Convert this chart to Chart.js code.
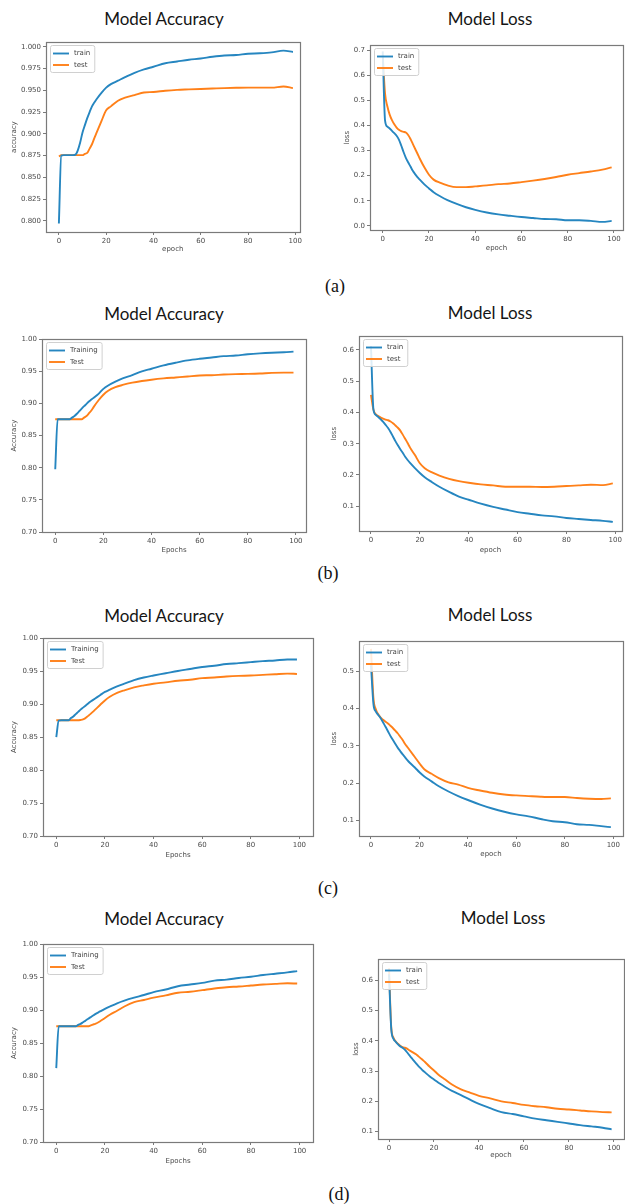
<!DOCTYPE html>
<html>
<head>
<meta charset="utf-8">
<script src="https://cdn.jsdelivr.net/npm/chart.js@4.4.1/dist/chart.umd.min.js"></script>
<style>
  html, body { margin: 0; padding: 0; background: #fff; overflow: hidden; }
  #page { position: relative; width: 625px; height: 1204px; overflow: hidden; background: #fff; }
  #page canvas { position: absolute; }
  .ttl { position: absolute; transform: translate(-50%, -50%); font-family: Lato, "Open Sans", sans-serif; font-size: 17px; line-height: 1; color: #151515; white-space: nowrap; }
  .sub { position: absolute; transform: translate(-50%, -50%); font-family: "Liberation Serif", "DejaVu Serif", serif; font-size: 18px; line-height: 1; color: #111; }
</style>
</head>
<body>
<div id="page"></div>
<script>
const epochs = [0,1,2,3,4,5,6,7,8,9,10,11,12,13,14,15,16,18,20,22,25,28,32,36,40,45,50,55,60,65,70,75,80,85,90,95,99];

// (a)
const accTrainA = [0.797,0.875,0.8755,0.8755,0.8755,0.8755,0.8755,0.876,0.881,0.890,0.9015,0.910,0.918,0.925,0.9315,0.936,0.940,
  0.947,0.953,0.957,0.961,0.965, 0.970,0.974,0.977,0.981,0.983, 0.985,0.9865,0.9885,0.990,0.9905, 0.992,0.9925,0.9935,0.9955,0.994];
const accTestA = [0.874,0.8755,0.8755,0.8755,0.8755,0.8755,0.8755,0.8755,0.8755,0.8755,0.8755,0.877,0.878,0.883,0.888,0.895,0.9015,
  0.9145,0.927,0.9315,0.938,0.9415, 0.9445,0.9475,0.948,0.9495,0.9505, 0.951,0.9515,0.952,0.9525,0.9528, 0.953,0.953,0.953,0.9543,0.9525];
const lossTrainA = [0.695,0.42,0.395,0.3875,0.3785,0.369,0.359,0.3435,0.320,0.294,0.271,0.253,0.236,0.219,0.206,0.194,0.184,
  0.165,0.149,0.1335,0.1167,0.1024, 0.087,0.074,0.0635,0.053,0.0454, 0.040,0.035,0.031,0.027,0.026, 0.022,0.022,0.0195,0.0155,0.0195];
const lossTestA = [0.68,0.5275,0.476,0.443,0.421,0.4045,0.3915,0.3825,0.377,0.3745,0.372,0.3617,0.346,0.3267,0.307,0.288,0.268,
  0.233,0.2035,0.184,0.171,0.161, 0.154,0.154,0.157,0.161,0.166, 0.1685,0.174,0.180,0.1867,0.1945, 0.2035,0.21,0.2165,0.224,0.233];

// (b)
const accTrainB = [0.7976,0.8754,0.8755,0.8755,0.8755,0.8755,0.8755,0.878,0.8805,0.884,0.888,0.892,0.8958,0.8993,0.903,0.906,0.909,
  0.915,0.9227,0.928,0.934,0.939, 0.944,0.950,0.954,0.9593,0.9634, 0.967,0.9695,0.9715,0.9736,0.9746, 0.9766,0.978,0.979,0.9797,0.9807];
const accTestB = [0.8755,0.8755,0.8755,0.8755,0.8755,0.8755,0.8755,0.8755,0.8755,0.8755,0.8755,0.8755,0.878,0.8805,0.8846,0.889,0.8947,
  0.905,0.9136,0.9197,0.9253,0.9288, 0.9324,0.935,0.937,0.939,0.9405, 0.942,0.9436,0.944,0.945,0.9456, 0.946,0.9466,0.9476,0.948,0.948];
const lossTrainB = [0.6125,0.41,0.392,0.3855,0.378,0.370,0.3604,0.35,0.3375,0.323,0.3083,0.2948,0.2823,0.271,0.2583,0.2479,0.2385,
  0.2219,0.2063,0.1927,0.177,0.1625, 0.1458,0.131,0.1208,0.1083,0.098, 0.0896,0.0813,0.076,0.0708,0.0677, 0.0625,0.0594,0.0562,0.0531,0.05];
const lossTestB = [0.4563,0.409,0.3937,0.3885,0.3833,0.380,0.377,0.375,0.371,0.3656,0.3583,0.351,0.3417,0.329,0.3156,0.302,0.2875,
  0.2635,0.2375,0.2219,0.2083,0.198, 0.1875,0.1802,0.175,0.1698,0.1667, 0.1625,0.1625,0.1625,0.1615,0.1625, 0.1646,0.1667,0.169,0.1677,0.173];

// (c)
const accTrainC = [0.85,0.875,0.8755,0.8755,0.8755,0.8755,0.8788,0.8813,0.8848,0.8882,0.8917,0.8947,0.8977,0.9007,0.9036,0.9061,0.9086,
  0.9136,0.9185,0.922,0.927,0.931, 0.9364,0.9404,0.9434,0.9468,0.9503, 0.9533,0.9563,0.9583,0.9608,0.9622, 0.9637,0.9652,0.9662,0.9677,0.9677];
const accTestC = [0.8755,0.8755,0.8755,0.8755,0.8755,0.8755,0.8755,0.8755,0.8755,0.8755,0.876,0.8768,0.8788,0.8818,0.8848,0.8882,0.8917,
  0.8987,0.9056,0.9111,0.917,0.921, 0.9255,0.9285,0.931,0.933,0.9354, 0.9369,0.9394,0.9404,0.9419,0.9429, 0.9434,0.9444,0.9454,0.9463,0.9458];
const lossTrainC = [0.5158,0.4125,0.3915,0.3827,0.374,0.3626,0.3512,0.339,0.3267,0.3162,0.3057,0.2952,0.2864,0.2777,0.2698,0.2619,0.2549,
  0.2427,0.2295,0.2182,0.205,0.1919, 0.1779,0.1657,0.1551,0.1429,0.1324, 0.1236,0.1166,0.1114,0.1044,0.0982, 0.0956,0.0904,0.0886,0.0851,0.0825];
const lossTestC = [0.5595,0.4282,0.3976,0.3845,0.3757,0.3696,0.3643,0.36,0.3538,0.3477,0.3407,0.3337,0.325,0.3162,0.3057,0.297,0.2882,
  0.2707,0.2532,0.2374,0.2252,0.2138, 0.2024,0.1963,0.1875,0.1805,0.1744, 0.17,0.1674,0.1656,0.1639,0.163, 0.163,0.1604,0.1586,0.1578,0.1595];

// (d)
const accTrainD = [0.812,0.8756,0.8755,0.8755,0.8755,0.8755,0.8755,0.8755,0.8755,0.8776,0.8791,0.8816,0.884,0.8866,0.889,0.8915,0.894,
  0.898,0.902,0.9055,0.9104,0.9144, 0.9189,0.9229,0.9274,0.9313,0.9363, 0.9388,0.9413,0.9448,0.9463,0.9488, 0.9507,0.9532,0.9552,0.9572,0.9592];
const accTestD = [0.8755,0.8755,0.8755,0.8755,0.8755,0.8755,0.8755,0.8755,0.8755,0.8755,0.8755,0.8755,0.8755,0.8755,0.8766,0.8781,0.8791,
  0.8831,0.888,0.893,0.899,0.9055, 0.912,0.9154,0.9189,0.9224,0.9264, 0.9279,0.9303,0.9328,0.9348,0.9358, 0.9373,0.9388,0.9398,0.9408,0.9403];
const lossTrainD = [0.62,0.4387,0.4065,0.3968,0.3882,0.3817,0.3774,0.371,0.3624,0.3527,0.344,0.3344,0.3258,0.3172,0.3097,0.3022,0.2957,
  0.2828,0.272,0.2613,0.2473,0.2344, 0.2204,0.2054,0.1914,0.1774,0.1645, 0.1581,0.1505,0.143,0.1376,0.1323, 0.1269,0.1215,0.1172,0.1129,0.1075];
const lossTestD = [0.64,0.444,0.4097,0.3978,0.3903,0.3839,0.3796,0.3774,0.3742,0.3688,0.3645,0.3602,0.3559,0.3495,0.343,0.3366,0.3301,
  0.3151,0.3022,0.2882,0.272,0.2559, 0.2398,0.229,0.2183,0.2097,0.2, 0.1946,0.1882,0.1839,0.1806,0.1753, 0.1731,0.1699,0.1667,0.1645,0.1634];

const accLegend = ["Training", "Test"];
const lossLegend = ["train", "test"];

const BLUE = "#2686c0";
const ORANGE = "#ff8019";
const TICK_FONT = { family: "DejaVu Sans", size: 7 };
const TICK_COLOR = "#4a4a4a";
const YW = 40, XH = 26, PT = 2, PR = 2;

// plot box on the page: [left, top, right, bottom]
const panels = [
  { box: [46, 38, 302, 232], x: [-5.45, 101.8], y: [0.7872, 1.0052], step: 0.025, dec: 3, yTitle: "accuracy", xTitle: "epoch", names: lossLegend, train: accTrainA, test: accTestA, yGap: 32, xGap: 17.6 },
  { box: [370, 41, 623, 230], x: [-5.5, 103.9], y: [-0.0167, 0.7195], step: 0.1, dec: 1, yTitle: "loss", xTitle: "epoch", names: lossLegend, train: lossTrainA, test: lossTestA, yGap: 22.7, xGap: 18.3 },
  { box: [42, 335, 306, 532], x: [-5.5, 104.2], y: [0.70, 1.00], step: 0.05, dec: 2, yTitle: "Accuracy", xTitle: "Epochs", names: accLegend, train: accTrainB, test: accTestB, yGap: 27.7, xGap: 18.3 },
  { box: [359, 332, 622, 531], x: [-4.9, 102.7], y: [0.0209, 0.6437], step: 0.1, dec: 1, yTitle: "loss", xTitle: "epoch", names: lossLegend, train: lossTrainB, test: lossTestB, yGap: 25, xGap: 19 },
  { box: [43, 634, 313, 836], x: [-5.47, 105.6], y: [0.70, 1.00], step: 0.05, dec: 2, yTitle: "Accuracy", xTitle: "Epochs", names: accLegend, train: accTrainC, test: accTestC, yGap: 28.7, xGap: 19 },
  { box: [359, 637, 623, 836], x: [-4.95, 104], y: [0.0588, 0.58], step: 0.1, dec: 1, yTitle: "loss", xTitle: "epoch", names: lossLegend, train: lossTrainC, test: lossTestC, yGap: 25, xGap: 18.6 },
  { box: [43, 940, 313, 1142], x: [-5.45, 105.5], y: [0.70, 1.00], step: 0.05, dec: 2, yTitle: "Accuracy", xTitle: "Epochs", names: accLegend, train: accTrainD, test: accTestD, yGap: 28.7, xGap: 18.7 },
  { box: [378, 955, 624, 1139], x: [-4.9, 104.5], y: [0.0755, 0.67], step: 0.1, dec: 1, yTitle: "loss", xTitle: "epoch", names: lossLegend, train: lossTrainD, test: lossTestD, yGap: 21.6, xGap: 15.7 },
];

const titles = [
  ["Model Accuracy", 164, 18], ["Model Loss", 490, 18],
  ["Model Accuracy", 164, 313], ["Model Loss", 490, 312],
  ["Model Accuracy", 164, 615], ["Model Loss", 490, 614],
  ["Model Accuracy", 164, 918], ["Model Loss", 503, 917],
];
const subLabels = [["(a)", 335, 286], ["(b)", 328, 573], ["(c)", 328, 888], ["(d)", 339, 1194]];

const page = document.getElementById("page");

titles.forEach(([t, x, y]) => {
  const d = document.createElement("div");
  d.className = "ttl";
  d.style.left = x + "px";
  d.style.top = y + "px";
  d.textContent = t;
  page.appendChild(d);
});
subLabels.forEach(([t, x, y]) => {
  const d = document.createElement("div");
  d.className = "sub";
  d.style.left = x + "px";
  d.style.top = y + "px";
  d.textContent = t;
  page.appendChild(d);
});

// matplotlib-like frame round the plot area
const framePlugin = {
  id: "frame",
  afterDatasetsDraw(chart) {
    const { ctx, chartArea: a } = chart;
    ctx.save();
    ctx.strokeStyle = "#7a7a7a";
    ctx.lineWidth = 1.2;
    ctx.strokeRect(Math.round(a.left) + 0.5, Math.round(a.top) + 0.5, Math.round(a.right - a.left), Math.round(a.bottom - a.top));
    ctx.restore();
  },
};

// legend box drawn inside the upper left corner
const insideLegend = {
  id: "insideLegend",
  afterDraw(chart) {
    const { ctx, chartArea: a } = chart;
    const sets = chart.data.datasets;
    ctx.save();
    ctx.font = '7px "DejaVu Sans"';
    const tw = Math.max(...sets.map((d) => ctx.measureText(d.label).width));
    const x0 = Math.round(a.left) + 4, y0 = Math.round(a.top) + 3;
    const w = 3 + 16 + 5 + tw + 4, h = 3 + sets.length * 11.5 + 1;
    ctx.fillStyle = "rgba(255,255,255,0.85)";
    ctx.strokeStyle = "#d0d0d0";
    ctx.lineWidth = 1;
    ctx.beginPath();
    ctx.roundRect(x0 + 0.5, y0 + 0.5, w, h, 2);
    ctx.fill();
    ctx.stroke();
    sets.forEach((d, i) => {
      const cy = y0 + 3 + 5.5 + i * 11.5;
      ctx.strokeStyle = d.borderColor;
      ctx.lineWidth = d.borderWidth;
      ctx.beginPath();
      ctx.moveTo(x0 + 3, cy);
      ctx.lineTo(x0 + 19, cy);
      ctx.stroke();
      ctx.fillStyle = "#444";
      ctx.textBaseline = "middle";
      ctx.fillText(d.label, x0 + 24, cy);
    });
    ctx.restore();
  },
};

panels.forEach((p) => {
  const [l, t, r, b] = p.box;
  const cv = document.createElement("canvas");
  const w = r - l + YW + PR, h = b - t + PT + XH;
  cv.width = w;
  cv.height = h;
  cv.style.left = l - YW + "px";
  cv.style.top = t - PT + "px";
  cv.style.width = w + "px";
  cv.style.height = h + "px";
  page.appendChild(cv);

  const lh = TICK_FONT.size * 1.2;
  const pts = (arr) => epochs.map((e, i) => ({ x: e, y: arr[i] }));
  const line = (label, arr, color) => ({
    label,
    data: pts(arr),
    borderColor: color,
    backgroundColor: color,
    borderWidth: 1.9,
    pointRadius: 0,
    cubicInterpolationMode: "monotone",
  });

  new Chart(cv, {
    type: "line",
    data: {
      datasets: [line(p.names[0], p.train, BLUE), line(p.names[1], p.test, ORANGE)],
    },
    options: {
      responsive: false,
      animation: false,
      devicePixelRatio: 1,
      layout: { padding: { top: PT, right: PR, left: 0, bottom: 0 } },
      plugins: { legend: { display: false }, tooltip: { enabled: false } },
      scales: {
        x: {
          type: "linear",
          min: p.x[0],
          max: p.x[1],
          afterFit: (s) => { s.height = XH; },
          border: { display: false },
          grid: { drawOnChartArea: false, drawTicks: true, tickLength: 3, color: "#7a7a7a" },
          ticks: { stepSize: 20, includeBounds: false, autoSkip: false, maxRotation: 0, padding: 2, font: TICK_FONT, color: TICK_COLOR, callback: (v) => String(v) },
          title: { display: true, text: p.xTitle, font: TICK_FONT, color: TICK_COLOR, padding: { top: 0, bottom: XH - lh / 2 - p.xGap } },
        },
        y: {
          min: p.y[0],
          max: p.y[1],
          afterFit: (s) => { s.width = YW; },
          border: { display: false },
          grid: { drawOnChartArea: false, drawTicks: true, tickLength: 3, color: "#7a7a7a" },
          ticks: { stepSize: p.step, includeBounds: false, autoSkip: false, padding: 2, font: TICK_FONT, color: TICK_COLOR, callback: (v) => v.toFixed(p.dec) },
          title: { display: true, text: p.yTitle, font: TICK_FONT, color: TICK_COLOR, padding: { top: YW - p.yGap - lh / 2, bottom: 0 } },
        },
      },
    },
    plugins: [framePlugin, insideLegend],
  });
});
</script>
</body>
</html>
